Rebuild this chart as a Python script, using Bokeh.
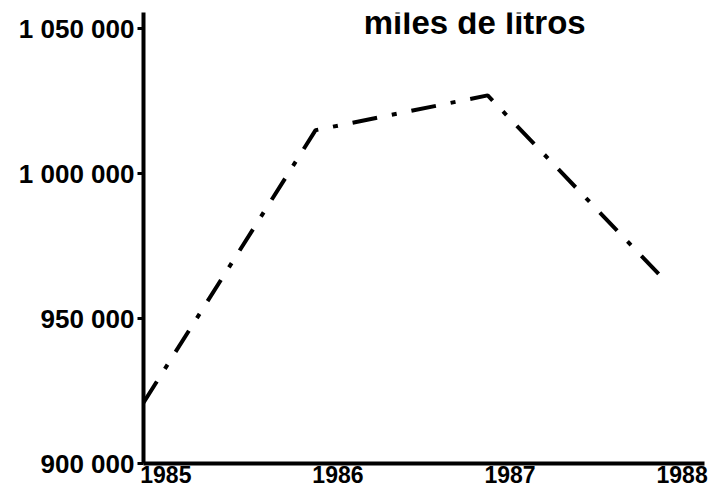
from bokeh.plotting import figure
from bokeh.models import FixedTicker, Label, Range1d
from bokeh.embed import file_html
from bokeh.resources import INLINE

# Data
years = [1985, 1986, 1987, 1988]
values = [921000, 1015000, 1027000, 965000]
x_tick_labels = ["1985", "1986", "1987", "1988"]
y_ticks = [900000, 950000, 1000000, 1050000]
y_tick_labels = ["900 000", "950 000", "1 000 000", "1 050 000"]
title_text = "miles de litros"

FONT = "Liberation Sans"
LABEL_SHIFT = 0.13  # year labels sit to the right of their tick, as in the original

p = figure(width=723, height=488, output_backend="svg", toolbar_location=None,
           x_range=Range1d(1985, 1988.26), y_range=Range1d(900000, 1055600),
           min_border_left=143, min_border_right=19, min_border_top=12, min_border_bottom=25)
p.outline_line_color = None
p.xgrid.visible = False
p.ygrid.visible = False
p.background_fill_color = "white"
p.border_fill_color = "white"

p.line(years, values, line_color="black", line_width=4, line_dash="25 15 5 15")

# x axis
x_label_pos = [y + LABEL_SHIFT for y in years]
xa = p.xaxis[0]
xa.ticker = FixedTicker(ticks=x_label_pos)
xa.major_label_overrides = {t: l for t, l in zip(x_label_pos, x_tick_labels)}
xa.axis_line_width = 4
xa.axis_line_color = "black"
xa.major_tick_out = 0
xa.major_tick_in = 0
xa.minor_tick_out = 0
xa.minor_tick_in = 0
xa.major_label_standoff = 2
xa.major_label_text_font = FONT
xa.major_label_text_font_size = "23px"
xa.major_label_text_font_style = "bold"
xa.major_label_text_color = "black"

# y axis
ya = p.yaxis[0]
ya.ticker = FixedTicker(ticks=y_ticks)
ya.major_label_overrides = {t: l for t, l in zip(y_ticks, y_tick_labels)}
ya.axis_line_width = 4
ya.axis_line_color = "black"
ya.major_tick_out = 6
ya.major_tick_in = 0
ya.major_tick_line_width = 3
ya.minor_tick_out = 0
ya.minor_tick_in = 0
ya.major_label_standoff = 3
ya.major_label_text_font = FONT
ya.major_label_text_font_size = "26px"
ya.major_label_text_font_style = "bold"
ya.major_label_text_color = "black"

p.add_layout(Label(x=1986.28, y=1052100, text=title_text, text_font=FONT,
                   text_font_size="33px", text_font_style="bold",
                   text_color="black", text_baseline="alphabetic"))

open("out.html", "w").write(file_html(p, INLINE))
